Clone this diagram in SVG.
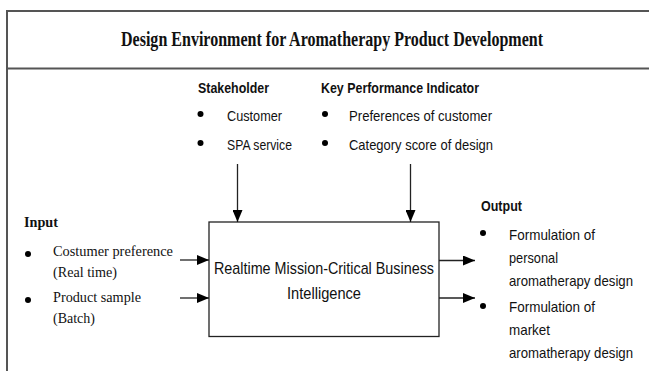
<svg xmlns="http://www.w3.org/2000/svg" width="649" height="371" viewBox="0 0 649 371">
  <style>
    .frame { stroke: #555; stroke-width: 2; fill: none; }
    .title { font-family: "Liberation Serif", "Times New Roman", serif; font-weight: bold; font-size: 20px; fill: #111; }
    .sans { font-family: "Liberation Sans", Arial, sans-serif; font-size: 15px; fill: #111; }
    .sansb { font-family: "Liberation Sans", Arial, sans-serif; font-size: 15px; font-weight: bold; fill: #111; }
    .serif { font-family: "Liberation Serif", "Times New Roman", serif; font-size: 15.5px; fill: #111; }
    .serifb { font-family: "Liberation Serif", "Times New Roman", serif; font-size: 15.5px; font-weight: bold; fill: #111; }
    .boxtext { font-family: "Liberation Sans", Arial, sans-serif; font-size: 17px; fill: #111; }
    .bullet { fill: #000; }
    .conn { stroke: #222; stroke-width: 1.3; fill: none; marker-end: url(#head); }
  </style>
  <defs>
    <marker id="head" viewBox="0 0 12 10" refX="12" refY="5" markerWidth="12" markerHeight="10" markerUnits="userSpaceOnUse" orient="auto">
      <path d="M0,0 L12,5 L0,10 Z" fill="#000"/>
    </marker>
  </defs>

  <!-- environment frame -->
  <g id="environment">
    <path class="frame" d="M7,371 V11 H649"/>
    <line class="frame" x1="7" y1="68.5" x2="649" y2="68.5"/>
    <text class="title" x="332" y="46" text-anchor="middle" textLength="422" lengthAdjust="spacingAndGlyphs">Design Environment for Aromatherapy Product Development</text>
  </g>

  <!-- stakeholder list -->
  <g id="stakeholder">
    <text class="sansb" x="198" y="93" textLength="71" lengthAdjust="spacingAndGlyphs">Stakeholder</text>
    <circle class="bullet" cx="200.5" cy="114" r="3"/>
    <text class="sans" x="227" y="121" textLength="55" lengthAdjust="spacingAndGlyphs">Customer</text>
    <circle class="bullet" cx="200.5" cy="143" r="3"/>
    <text class="sans" x="227" y="150" textLength="65" lengthAdjust="spacingAndGlyphs">SPA service</text>
  </g>

  <!-- key performance indicator list -->
  <g id="kpi">
    <text class="sansb" x="321" y="93" textLength="158" lengthAdjust="spacingAndGlyphs">Key Performance Indicator</text>
    <circle class="bullet" cx="325" cy="114" r="3"/>
    <text class="sans" x="349" y="121" textLength="143" lengthAdjust="spacingAndGlyphs">Preferences of customer</text>
    <circle class="bullet" cx="325" cy="143" r="3"/>
    <text class="sans" x="349" y="150" textLength="144" lengthAdjust="spacingAndGlyphs">Category score of design</text>
  </g>

  <!-- input list -->
  <g id="input">
    <text class="serifb" x="24" y="227" textLength="34" lengthAdjust="spacingAndGlyphs">Input</text>
    <circle class="bullet" cx="28" cy="254" r="3"/>
    <text class="serif" x="53" y="256" textLength="120" lengthAdjust="spacingAndGlyphs">Costumer preference</text>
    <text class="serif" x="53" y="277" textLength="64" lengthAdjust="spacingAndGlyphs">(Real time)</text>
    <circle class="bullet" cx="28" cy="300" r="3"/>
    <text class="serif" x="53" y="302" textLength="88" lengthAdjust="spacingAndGlyphs">Product sample</text>
    <text class="serif" x="53" y="323" textLength="42" lengthAdjust="spacingAndGlyphs">(Batch)</text>
  </g>

  <!-- central process -->
  <g id="process">
    <rect x="209" y="222" width="230" height="114.5" fill="#fff" stroke="#222" stroke-width="1.3"/>
    <text class="boxtext" x="324" y="274" text-anchor="middle" textLength="220" lengthAdjust="spacingAndGlyphs">Realtime Mission-Critical Business</text>
    <text class="boxtext" x="324" y="299" text-anchor="middle" textLength="74" lengthAdjust="spacingAndGlyphs">Intelligence</text>
  </g>

  <!-- output list -->
  <g id="output">
    <text class="sansb" x="481" y="211" textLength="41" lengthAdjust="spacingAndGlyphs">Output</text>
    <circle class="bullet" cx="483" cy="233" r="3"/>
    <text class="sans" x="509" y="240" textLength="86" lengthAdjust="spacingAndGlyphs">Formulation of</text>
    <text class="sans" x="509" y="263" textLength="49" lengthAdjust="spacingAndGlyphs">personal</text>
    <text class="sans" x="509" y="286" textLength="124" lengthAdjust="spacingAndGlyphs">aromatherapy design</text>
    <circle class="bullet" cx="483" cy="306" r="3"/>
    <text class="sans" x="509" y="312" textLength="86" lengthAdjust="spacingAndGlyphs">Formulation of</text>
    <text class="sans" x="509" y="335" textLength="41" lengthAdjust="spacingAndGlyphs">market</text>
    <text class="sans" x="509" y="358" textLength="124" lengthAdjust="spacingAndGlyphs">aromatherapy design</text>
  </g>

  <!-- connectors -->
  <g id="connectors">
    <line class="conn" x1="237.5" y1="164" x2="237.5" y2="222"/>
    <line class="conn" x1="410.5" y1="164" x2="410.5" y2="222"/>
    <line class="conn" x1="180" y1="260" x2="209" y2="260"/>
    <line class="conn" x1="180" y1="298" x2="209" y2="298"/>
    <line class="conn" x1="439" y1="260.5" x2="475" y2="260.5"/>
    <line class="conn" x1="439" y1="298" x2="475" y2="298"/>
  </g>
</svg>
